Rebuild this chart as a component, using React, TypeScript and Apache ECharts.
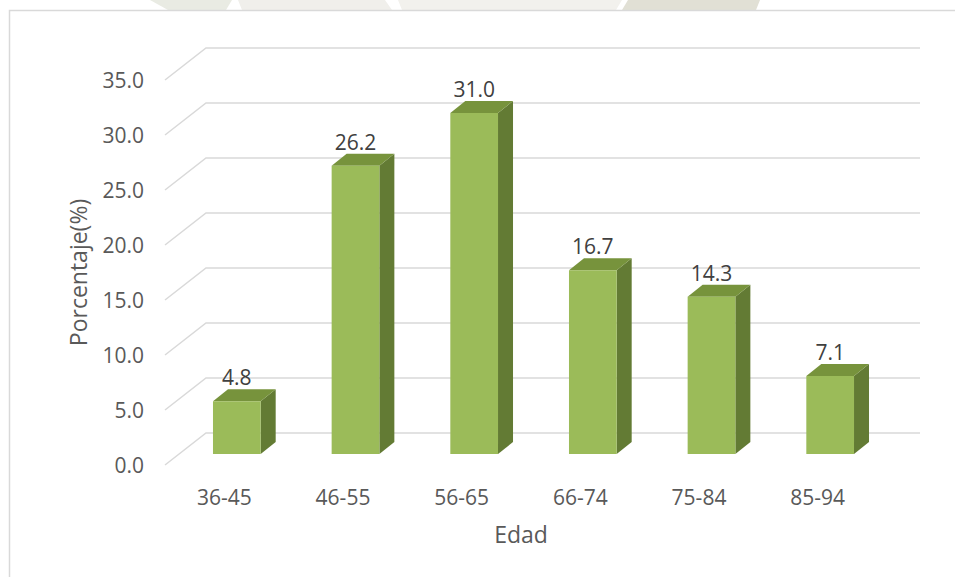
import React, { useEffect, useRef } from "react";
import * as echarts from "echarts";

const categories = ["36-45", "46-55", "56-65", "66-74", "75-84", "85-94"];
const values = [4.8, 26.2, 31.0, 16.7, 14.3, 7.1];
const yTicks = [0, 5, 10, 15, 20, 25, 30, 35];

const FONT = "'Open Sans', 'DejaVu Sans', sans-serif";

export default function App() {
  const ref = useRef<HTMLDivElement>(null);

  useEffect(() => {
    if (!ref.current) return;
    const chart = echarts.init(ref.current, undefined, { renderer: "svg" });

    const wallDx = 41;
    const wallDy = -32;
    const barOx = 12.5;
    const barOy = -11;
    const depthDx = 15;
    const depthDy = -12;

    const option: any = {
      animation: false,
      backgroundColor: "#ffffff",
      grid: { left: 165, right: 78, top: 80, bottom: 112, containLabel: false },
      xAxis: {
        type: "category",
        data: categories,
        axisLine: { show: false },
        axisTick: { show: false },
        splitLine: { show: false },
        axisLabel: { color: "#595959", fontSize: 21, fontFamily: FONT, margin: 21 },
        name: "Edad",
        nameLocation: "middle",
        nameGap: 57,
        nameTextStyle: { color: "#595959", fontSize: 23, fontFamily: FONT },
      },
      yAxis: {
        type: "value",
        min: 0,
        max: 35,
        interval: 5,
        axisLine: { show: false },
        axisTick: { show: false },
        splitLine: { show: false },
        axisLabel: {
          color: "#595959",
          fontSize: 21,
          fontFamily: FONT,
          margin: 21,
          formatter: (v: number) => v.toFixed(1),
        },
        name: "Porcentaje(%)",
        nameLocation: "middle",
        nameRotate: 90,
        nameGap: 76,
        nameTextStyle: { color: "#595959", fontSize: 23, fontFamily: FONT },
      },
      graphic: [
        { type: "polygon", shape: { points: [[150, 0], [232, 0], [226, 10], [168, 10]] }, style: { fill: "#E9EBE3" }, silent: true },
        { type: "polygon", shape: { points: [[238, 0], [385, 0], [392, 10], [242, 10]] }, style: { fill: "#F0EFEB" }, silent: true },
        { type: "polygon", shape: { points: [[398, 0], [622, 0], [616, 10], [402, 10]] }, style: { fill: "#F2F1ED" }, silent: true },
        { type: "polygon", shape: { points: [[628, 0], [760, 0], [756, 10], [622, 10]] }, style: { fill: "#E1E0D5" }, silent: true },
        {
          type: "rect",
          shape: { x: 9.5, y: 10.5, width: 2000, height: 2000 },
          style: { fill: "none", stroke: "#D9D9D9", lineWidth: 1.5 },
          silent: true,
          z: 0,
        },
      ],
      series: [
        {
          type: "custom",
          name: "grid",
          silent: true,
          z: 1,
          clip: false,
          data: yTicks.map((v) => [0, v]),
          encode: { x: 0, y: 1 },
          renderItem: (params: any, api: any) => {
            const v = api.value(1);
            const band = api.size([1, 0])[0];
            const p0 = api.coord([0, v]);
            const p1 = api.coord([categories.length - 1, v]);
            const left = p0[0] - band / 2;
            const right = p1[0] + band / 2;
            const y = p0[1];
            return {
              type: "polyline",
              shape: {
                points: [
                  [left, y],
                  [left + wallDx, y + wallDy],
                  [right + wallDx + 2, y + wallDy],
                ],
              },
              style: { stroke: "#D9D9D9", lineWidth: 1.5, fill: "none" },
            };
          },
        },
        {
          type: "custom",
          name: "Porcentaje",
          z: 5,
          clip: false,
          data: values.map((v, i) => [i, v]),
          encode: { x: 0, y: 1 },
          renderItem: (params: any, api: any) => {
            const i = api.value(0);
            const v = api.value(1);
            const c0 = api.coord([i, 0]);
            const c1 = api.coord([i, v]);
            const bw = api.size([1, 0])[0] * 0.402;
            const x0 = c0[0] + barOx - bw / 2;
            const x1 = x0 + bw;
            const yb = c0[1] + barOy;
            const yt = c1[1] + barOy;
            return {
              type: "group",
              children: [
                {
                  type: "polygon",
                  shape: {
                    points: [
                      [x1, yt],
                      [x1 + depthDx, yt + depthDy],
                      [x1 + depthDx, yb + depthDy],
                      [x1, yb],
                    ],
                  },
                  style: { fill: "#637B34" },
                },
                {
                  type: "polygon",
                  shape: {
                    points: [
                      [x0, yt],
                      [x0 + depthDx, yt + depthDy],
                      [x1 + depthDx, yt + depthDy],
                      [x1, yt],
                    ],
                  },
                  style: { fill: "#77933C" },
                },
                {
                  type: "rect",
                  shape: { x: x0, y: yt, width: bw, height: yb - yt },
                  style: { fill: "#9BBB59" },
                },
                {
                  type: "text",
                  style: {
                    x: x0 + bw / 2,
                    y: yt - 24,
                    text: v.toFixed(1),
                    fill: "#404040",
                    fontSize: 21,
                    fontFamily: FONT,
                    align: "center",
                    verticalAlign: "middle",
                  },
                },
              ],
            };
          },
        },
      ],
    };

    chart.setOption(option);
    return () => chart.dispose();
  }, []);

  return (
    <div
      ref={ref}
      style={{ position: "fixed", left: 0, top: 0, width: 955, height: 577, background: "#fff" }}
    />
  );
}
